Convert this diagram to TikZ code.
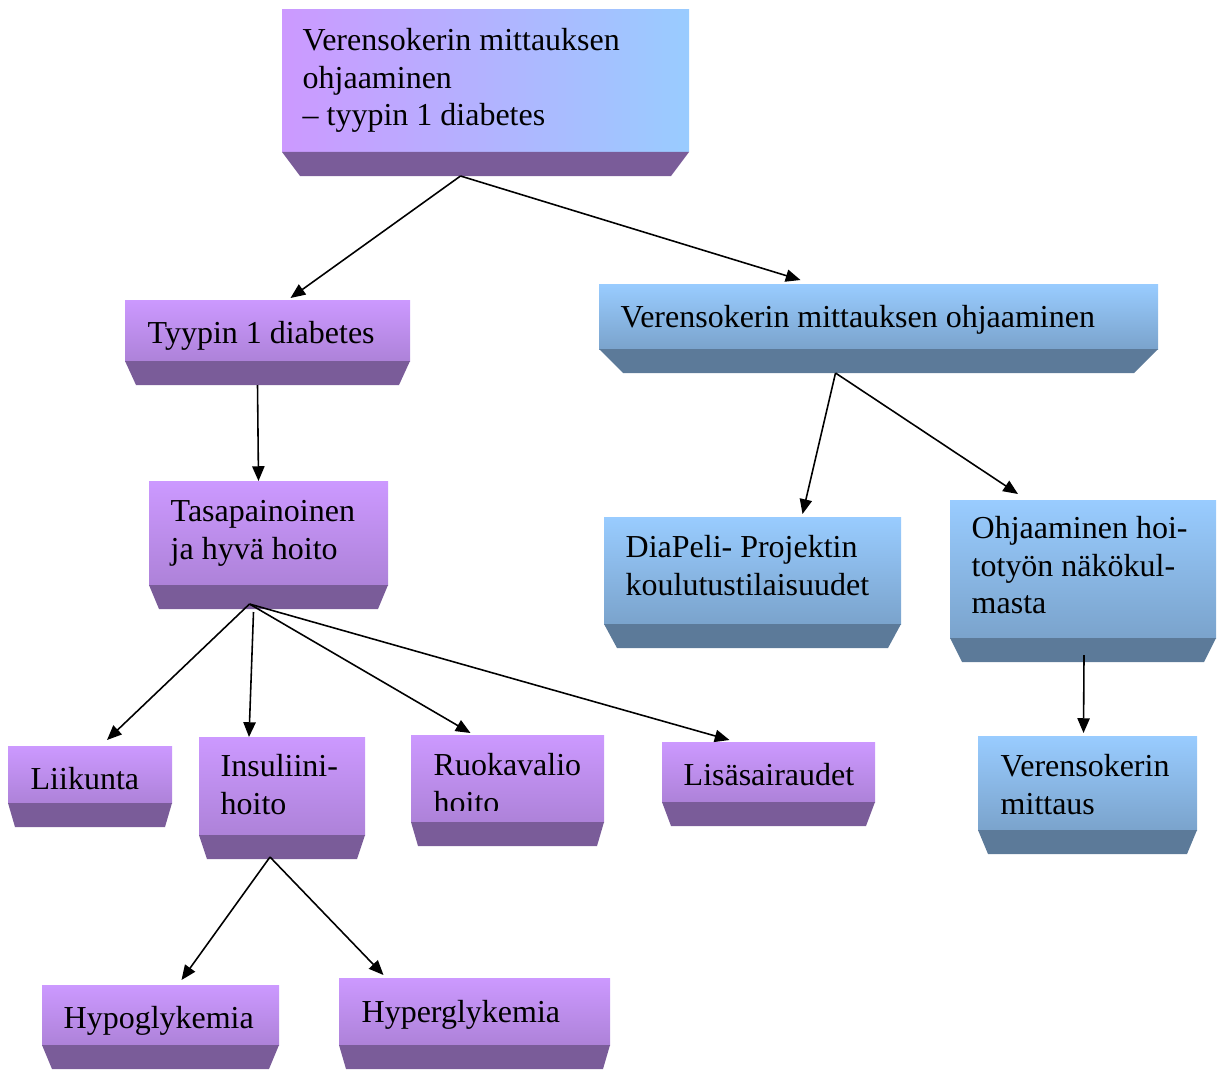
\documentclass[tikz,border=0pt]{standalone}
\usepackage{fontspec}
\setmainfont{Liberation Serif}
\usetikzlibrary{arrows.meta,calc}
\definecolor{clrP}{RGB}{204,153,255}
\definecolor{clrB}{RGB}{153,204,255}
\tikzset{
  face/.style={rectangle,anchor=north west,inner sep=0pt,outer sep=0pt},
  faceP/.style={face,top color=clrP,bottom color=clrP!85!black},
  faceB/.style={face,top color=clrB,bottom color=clrB!80!black},
  faceT/.style={face,left color=clrP,right color=clrB},
  txt/.style={anchor=north west,inner sep=0pt,align=left,
    font=\fontsize{9.1pt}{10.6pt}\selectfont,execute at begin node=\strut},
  arrow/.style={-{Triangle[length=4.2pt,width=3.5pt]},line width=0.45pt,black}
}
\begin{document}
\begin{tikzpicture}[x=1cm,y=1cm]
  \useasboundingbox (0,0) rectangle (12.25,10.70);
  \def\bh{0.24}
  % faces
  \node[faceT,minimum width=4.07cm,minimum height=1.42cm] (top) at (2.82,10.60) {};
  \node[faceP,minimum width=2.85cm,minimum height=0.61cm] (tyyp) at (1.25,7.70) {};
  \node[faceB,minimum width=5.59cm,minimum height=0.65cm] (ohj) at (5.99,7.86) {};
  \node[faceP,minimum width=2.39cm,minimum height=1.04cm] (tasa) at (1.49,5.89) {};
  \node[faceB,minimum width=2.97cm,minimum height=1.07cm] (diap) at (6.04,5.53) {};
  \node[faceB,minimum width=2.66cm,minimum height=1.38cm] (hoit) at (9.50,5.70) {};
  \node[faceP,minimum width=1.64cm,minimum height=0.57cm] (liik) at (0.08,3.24) {};
  \node[faceP,minimum width=1.66cm,minimum height=0.98cm] (insu) at (1.99,3.33) {};
  \node[faceP,minimum width=1.93cm,minimum height=0.87cm] (ruok) at (4.11,3.35) {};
  \node[faceP,minimum width=2.13cm,minimum height=0.60cm] (lisa) at (6.62,3.28) {};
  \node[faceB,minimum width=2.19cm,minimum height=0.94cm] (mitt) at (9.78,3.34) {};
  \node[faceP,minimum width=2.37cm,minimum height=0.60cm] (hypo) at (0.42,0.85) {};
  \node[faceP,minimum width=2.71cm,minimum height=0.67cm] (hype) at (3.39,0.92) {};
  % texts
  \node[txt] (top-t) at ($(top.north west)+(0.20,-0.18)$)
    {Verensokerin mittauksen\\ohjaaminen\\– tyypin 1 diabetes};
  \node[txt] (tyyp-t) at ($(tyyp.north west)+(0.22,-0.17)$) {Tyypin 1 diabetes};
  \node[txt] (ohj-t) at ($(ohj.north west)+(0.21,-0.17)$) {Verensokerin mittauksen ohjaaminen};
  \node[txt] (tasa-t) at ($(tasa.north west)+(0.21,-0.19)$) {Tasapainoinen\\ja hyvä hoito};
  \node[txt] (diap-t) at ($(diap.north west)+(0.21,-0.18)$) {DiaPeli- Projektin\\koulutustilaisuudet};
  \node[txt] (hoit-t) at ($(hoit.north west)+(0.21,-0.16)$) {Ohjaaminen hoi-\\totyön näkökul-\\masta};
  \node[txt] (liik-t) at ($(liik.north west)+(0.22,-0.17)$) {Liikunta};
  \node[txt] (insu-t) at ($(insu.north west)+(0.21,-0.17)$) {Insuliini-\\hoito};
  \begin{scope}
    \clip (ruok.north west) rectangle ($(ruok.south east)+(0,0.12)$);
    \node[txt] (ruok-t) at ($(ruok.north west)+(0.22,-0.18)$) {Ruokavalio\\hoito};
  \end{scope}
  \node[txt] (lisa-t) at ($(lisa.north west)+(0.21,-0.17)$) {Lisäsairaudet};
  \node[txt] (mitt-t) at ($(mitt.north west)+(0.22,-0.18)$) {Verensokerin\\mittaus};
  \node[txt] (hypo-t) at ($(hypo.north west)+(0.21,-0.17)$) {Hypoglykemia};
  \node[txt] (hype-t) at ($(hype.north west)+(0.22,-0.18)$) {Hyperglykemia};
  % bevels
  \foreach \n/\i in {top/0.18,tyyp/0.11,tasa/0.10,liik/0.07,insu/0.08,ruok/0.07,lisa/0.09,hypo/0.10,hype/0.07}
    \fill[clrP!60!black] (\n.south west) -- (\n.south east) -- ++(-\i,-\bh)
      -- ($(\n.south west)+(\i,-\bh)$) -- cycle;
  \foreach \n/\i in {ohj/0.24,diap/0.13,hoit/0.12,mitt/0.10}
    \fill[clrB!60!black] (\n.south west) -- (\n.south east) -- ++(-\i,-\bh)
      -- ($(\n.south west)+(\i,-\bh)$) -- cycle;
  % connectors
  \coordinate (top-o) at ($(top.south)+(-0.25,-\bh)$);
  \coordinate (tasa-o) at ($(tasa.south)+(-0.19,-0.19)$);
  \coordinate (insu-o) at ($(insu.south)+(-0.12,-0.22)$);
  \coordinate (ohj-o) at ($(ohj.south)+(-0.43,-\bh)$);
  \draw[arrow] (top-o) -- ($(tyyp.north)+(0.23,0.02)$);
  \draw[arrow] (top-o) -- ($(ohj.north)+(-0.78,0.04)$);
  \draw[arrow] ($(tyyp.south)+(-0.10,-\bh)$) -- ($(tasa.north)+(-0.10,0)$);
  \draw[arrow] (ohj-o) -- ($(diap.north)+(0.50,0.03)$);
  \draw[arrow] (ohj-o) -- ($(hoit.north)+(-0.65,0.06)$);
  \draw[arrow] ($(hoit.south)+(0.01,-0.17)$) -- ($(mitt.north)+(-0.04,0.03)$);
  \draw[arrow] (tasa-o) -- ($(liik.north)+(0.17,0.06)$);
  \draw[arrow] ($(tasa.south)+(-0.15,-0.27)$) -- ($(insu.north)+(-0.33,0)$);
  \draw[arrow] (tasa-o) -- ($(ruok.north)+(-0.37,0.02)$);
  \draw[arrow] (tasa-o) -- ($(lisa.north)+(-0.39,0.02)$);
  \draw[arrow] (insu-o) -- ($(hypo.north)+(0.21,0.05)$);
  \draw[arrow] (insu-o) -- ($(hype.north)+(-0.91,0.03)$);
\end{tikzpicture}
\end{document}
